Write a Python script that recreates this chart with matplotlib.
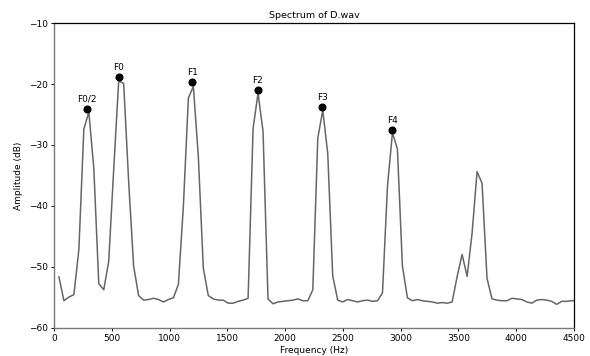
import numpy as np
import matplotlib
matplotlib.use("Agg")
import matplotlib.pyplot as plt

# FFT bin indices (44.1 kHz, 1024-point) and amplitudes
bin_index = np.arange(1, 106)
bin_width_hz = 44100 / 1024
amplitude_db = [
    -51.7, -55.6, -55.0, -54.6, -47.2, -27.4, -24.6, -33.8, -52.8, -53.8,
    -49.1, -34.0, -19.5, -19.9, -36.0, -49.9, -54.75, -55.5, -55.4, -55.2,
    -55.4, -55.8, -55.4, -55.1, -52.9, -40.0, -22.3, -20.4, -31.9, -50.2,
    -54.75, -55.3, -55.5, -55.5, -56.0, -56.0, -55.7, -55.5, -55.2, -27.3,
    -21.5, -27.8, -55.3, -56.1, -55.8, -55.7, -55.6, -55.5, -55.3, -55.6,
    -55.6, -53.8, -28.9, -24.3, -31.4, -51.5, -55.5, -55.8, -55.4, -55.6,
    -55.8, -55.6, -55.5, -55.7, -55.6, -54.3, -36.8, -28.0, -30.7, -49.9,
    -55.1, -55.6, -55.4, -55.6, -55.7, -55.8, -56.0, -55.9, -56.0, -55.8,
    -51.6, -48.0, -51.6, -44.5, -34.4, -36.3, -51.9, -55.3, -55.5, -55.6,
    -55.6, -55.2, -55.3, -55.4, -55.8, -56.0, -55.5, -55.4, -55.5, -55.7,
    -56.2, -55.7, -55.7, -55.6, -55.6,
]

peak_labels = ["F0/2", "F0", "F1", "F2", "F3", "F4"]
peak_freqs = [286, 560, 1197, 1763, 2322, 2928]
peak_amps = [-24.05, -18.85, -19.7, -21.0, -23.7, -27.5]

plt.rcParams["font.family"] = ["DejaVu Sans"]
plt.rcParams["font.size"] = 6.5

fig = plt.figure(figsize=(5.9, 3.56), dpi=100)
ax = fig.add_axes([0.0915, 0.080, 0.8815, 0.855])

freqs = bin_index * bin_width_hz
ax.plot(freqs, amplitude_db, color="#666666", linewidth=1.1)
ax.plot(peak_freqs, peak_amps, "o", color="black", markersize=4.8)
for lab, fx, fy in zip(peak_labels, peak_freqs, peak_amps):
    ax.annotate(lab, (fx, fy), xytext=(0, 3.5), textcoords="offset points",
                ha="center", va="bottom", fontsize=6.5)

ax.set_xlim(0, 4500)
ax.set_ylim(-60, -10)
ax.set_xticks(np.arange(0, 4501, 500))
ax.set_yticks(np.arange(-60, -9, 10))
ax.set_title("Spectrum of D.wav", fontsize=6.8, pad=4)
ax.set_xlabel("Frequency (Hz)", fontsize=6.5, labelpad=2)
ax.set_ylabel("Amplitude (dB)", fontsize=6.5, labelpad=4)
ax.tick_params(length=2.5, width=0.7, pad=2, labelsize=6.5)
for side in ["left", "bottom"]:
    ax.spines[side].set_color("#777777")
    ax.spines[side].set_linewidth(1.0)
for side in ["top", "right"]:
    ax.spines[side].set_color("black")
    ax.spines[side].set_linewidth(0.9)

fig.savefig("out.png", dpi=100)
